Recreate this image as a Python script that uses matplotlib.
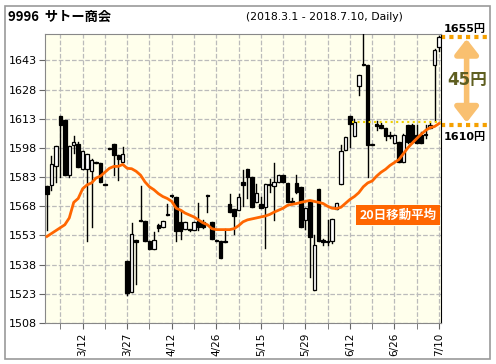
import matplotlib
matplotlib.use("Agg")
import matplotlib.pyplot as plt
import matplotlib.patches as mpatches

# 日足 (2018.3.1 - 2018.7.10), 絵から読み取った値
opens  = [1578.3, 1578.8, 1588.6, 1614.2, 1612.2, 1584.3, 1599.7, 1600.2, 1587.4, 1587.4,
          1586.2, 1591.0, 1590.0, 1579.6, 1597.8, 1600.2, 1594.2, 1590.5, 1539.8, 1524.0,
          1550.5, 1561.0, 1560.3, 1550.2, 1546.1, 1558.3, 1557.4, 1564.0, 1573.6, 1573.0,
          1560.0, 1556.3, 1556.0, 1555.7, 1560.3, 1560.0, 1573.8, 1560.0, 1550.5, 1550.2,
          1550.2, 1569.1, 1566.8, 1566.3, 1580.5, 1587.0, 1583.1, 1570.2, 1569.4, 1567.7,
          1579.5, 1578.5, 1580.5, 1583.9, 1580.2, 1570.5, 1580.2, 1578.0, 1560.8, 1570.2,
          1525.2, 1577.1, 1550.9, 1550.0, 1550.2, 1566.8, 1579.7, 1596.9, 1614.2, 1604.0,
          1629.6, 1641.2, 1640.4, 1599.9, 1609.8, 1610.0, 1608.0, 1604.3, 1600.7, 1601.0,
          1590.8, 1610.0, 1610.0, 1604.8, 1604.8, 1605.0, 1608.4, 1640.8, 1649.8]
highs  = [1578.5, 1593.7, 1599.2, 1614.2, 1612.2, 1599.2, 1604.0, 1601.0, 1596.3, 1595.1,
          1592.5, 1591.0, 1590.0, 1579.6, 1597.8, 1600.2, 1594.2, 1598.5, 1539.8, 1559.5,
          1550.5, 1578.3, 1560.5, 1550.2, 1555.0, 1559.0, 1560.3, 1569.4, 1573.6, 1573.0,
          1566.0, 1560.0, 1556.0, 1560.0, 1569.9, 1560.8, 1573.8, 1560.0, 1550.5, 1550.2,
          1556.5, 1574.2, 1566.8, 1574.5, 1586.5, 1587.0, 1583.1, 1579.7, 1572.8, 1579.7,
          1582.2, 1590.0, 1583.9, 1583.9, 1580.2, 1572.0, 1583.9, 1578.0, 1567.0, 1570.2,
          1553.1, 1577.1, 1551.0, 1561.0, 1561.7, 1569.9, 1599.5, 1603.6, 1614.2, 1613.0,
          1635.3, 1657.0, 1640.4, 1599.9, 1612.0, 1611.0, 1608.0, 1606.0, 1604.5, 1601.0,
          1605.0, 1610.0, 1610.5, 1610.0, 1606.0, 1610.0, 1611.0, 1649.0, 1655.5]
lows   = [1555.7, 1576.6, 1580.5, 1583.0, 1584.3, 1583.0, 1595.4, 1588.2, 1587.0, 1550.2,
          1557.4, 1590.3, 1580.5, 1579.0, 1597.2, 1583.9, 1581.5, 1590.5, 1522.4, 1524.0,
          1528.2, 1560.5, 1550.2, 1546.1, 1546.1, 1555.5, 1557.4, 1563.4, 1573.0, 1550.2,
          1551.1, 1556.3, 1555.5, 1555.7, 1555.7, 1556.6, 1565.2, 1551.4, 1550.0, 1541.2,
          1549.7, 1565.2, 1553.6, 1566.3, 1568.0, 1572.0, 1567.5, 1570.2, 1567.3, 1546.3,
          1575.5, 1560.8, 1580.5, 1580.5, 1570.0, 1569.0, 1575.0, 1557.4, 1556.5, 1531.6,
          1525.2, 1550.2, 1548.0, 1548.0, 1549.0, 1566.8, 1579.7, 1596.9, 1598.5, 1604.0,
          1625.0, 1640.4, 1583.1, 1599.3, 1607.0, 1608.2, 1602.0, 1603.0, 1600.5, 1590.5,
          1590.5, 1600.7, 1600.7, 1600.7, 1600.5, 1603.0, 1608.0, 1612.0, 1648.0]
closes = [1574.5, 1589.9, 1599.2, 1609.6, 1584.3, 1599.2, 1601.0, 1588.2, 1596.3, 1595.1,
          1592.0, 1590.4, 1580.5, 1579.0, 1597.3, 1594.6, 1592.3, 1595.1, 1523.2, 1554.0,
          1549.6, 1560.5, 1550.2, 1546.1, 1550.9, 1556.6, 1560.3, 1563.4, 1573.1, 1555.3,
          1555.3, 1560.0, 1555.6, 1560.0, 1557.4, 1557.4, 1573.3, 1551.4, 1550.1, 1541.2,
          1549.8, 1565.2, 1563.2, 1573.0, 1578.7, 1583.1, 1567.5, 1574.8, 1567.3, 1579.5,
          1579.1, 1580.3, 1583.9, 1580.5, 1570.2, 1570.1, 1575.4, 1557.4, 1567.0, 1552.2,
          1548.0, 1550.2, 1549.5, 1549.6, 1561.7, 1569.9, 1596.3, 1603.6, 1610.5, 1611.3,
          1635.3, 1640.6, 1599.7, 1599.5, 1609.5, 1608.4, 1604.3, 1604.0, 1604.5, 1590.8,
          1604.8, 1601.0, 1601.0, 1600.7, 1600.7, 1604.6, 1610.0, 1648.1, 1655.0]
# 20日移動平均
ma20 = [1552.5, 1554.0, 1555.5, 1557.0, 1558.5, 1562.0, 1570.0, 1572.0, 1577.0, 1579.0,
        1580.0, 1582.5, 1583.5, 1585.5, 1587.5, 1588.5, 1588.5, 1589.5, 1587.5, 1587.3,
        1586.0, 1584.0, 1580.5, 1578.0, 1576.5, 1574.5, 1573.0, 1572.0, 1570.5, 1567.0,
        1566.0, 1564.5, 1563.5, 1562.5, 1561.0, 1559.5, 1558.5, 1556.5, 1556.0, 1556.0,
        1556.0, 1556.0, 1556.5, 1558.0, 1560.0, 1561.0, 1561.5, 1562.0, 1562.5, 1563.0,
        1563.8, 1565.0, 1566.0, 1567.0, 1568.5, 1569.0, 1569.4, 1570.0, 1570.5, 1571.0,
        1570.5, 1570.0, 1569.4, 1568.0, 1567.0, 1566.8, 1567.5, 1569.5, 1571.5, 1573.0,
        1575.0, 1578.0, 1580.0, 1581.0, 1583.5, 1585.5, 1587.0, 1589.0, 1590.5, 1592.0,
        1595.0, 1598.0, 1600.5, 1602.8, 1605.0, 1607.0, 1608.4, 1609.0, 1610.5]

date_pos = [8, 18, 28, 38, 48, 58, 68, 78, 88]
date_labels = ['3/12', '3/27', '4/12', '4/26', '5/15', '5/29', '6/12', '6/26', '7/10']
y_ticks = [1508, 1523, 1538, 1553, 1568, 1583, 1598, 1613, 1628, 1643]
last_price = 1655
ma_price = 1610

jp = ['Noto Sans CJK JP', 'DejaVu Sans']
mix = ['DejaVu Sans', 'Noto Sans CJK JP']

fig = plt.figure(figsize=(4.96, 3.64), dpi=100)
# 外枠
fig.patches.append(mpatches.Rectangle((5/496, 5/364), 485/496, 353/364, transform=fig.transFigure,
                                      fill=False, edgecolor='#999999', lw=1.2))
ax = fig.add_axes([45/496, 41/364, 396/496, 289.5/364])
ax.set_facecolor('#FFFFEC')

for i in range(len(opens)):
    o, h, l, c = opens[i], highs[i], lows[i], closes[i]
    ax.plot([i, i], [l, h], color='black', lw=1, zorder=3)
    bottom = min(o, c)
    height = max(abs(c - o), 0.6)
    if c >= o:
        rect = mpatches.Rectangle((i - 0.38, bottom), 0.76, height, facecolor='white',
                                  edgecolor='black', lw=0.9, zorder=4)
    else:
        rect = mpatches.Rectangle((i - 0.38, bottom), 0.76, height, facecolor='black',
                                  edgecolor='black', lw=0.9, zorder=4)
    ax.add_patch(rect)

ax.plot(range(len(ma20)), ma20, color='#FF6600', lw=2, zorder=5)
ax.plot([68.5, 88.4], [ma_price + 1.5, ma_price + 1.5], color='#F0D000', lw=1.5, ls=':', zorder=6)

ax.set_xlim(-0.45, 88.45)
ax.set_ylim(1508, 1656.8)
ax.set_yticks(y_ticks)
ax.set_yticklabels([str(v) for v in y_ticks], fontsize=8)
ax.set_xticks(date_pos)
ax.set_xticklabels(date_labels, rotation=90, fontsize=7.5)
ax.set_xticks(range(3, 89, 5), minor=True)
ax.tick_params(axis='both', which='both', direction='out', length=4, color='#666666', pad=2)
ax.tick_params(axis='x', pad=3)
ax.grid(True, which='both', axis='x', color='#BBBBBB', ls='--', lw=0.9)
ax.grid(True, axis='y', color='#BBBBBB', ls='--', lw=0.9)
ax.set_axisbelow(True)
for s in ['left', 'bottom', 'top']:
    ax.spines[s].set_color('#888888')
ax.spines['right'].set_color('black')

# タイトル
fig.text(8/496, 1 - 17/364, '9996  サトー商会', family=jp, fontsize=9.5, fontweight='bold', va='center')
fig.text(246/496, 1 - 17/364, '(2018.3.1 - 2018.7.10, Daily)', fontsize=7.8, va='center')

# 右側の注記
xr = 99.3
ax.plot([88.5, xr], [last_price, last_price], color='#F5A000', lw=3, ls=(0, (1, 1)), clip_on=False)
ax.plot([88.5, xr], [ma_price, ma_price], color='#F5A000', lw=3, ls=(0, (1, 1)), clip_on=False)
ax.annotate('', xy=(94.2, last_price - 1), xytext=(94.2, ma_price + 1),
            arrowprops=dict(arrowstyle='<|-|>,head_width=0.7,head_length=0.9', lw=4,
                            color='#F9C070', shrinkA=0, shrinkB=0), annotation_clip=False)
ax.text(94.3, 1633, '45円', family=mix, fontsize=12, fontweight='bold', color='#5E5E20',
        ha='center', va='center', clip_on=False)
ax.text(93.7, last_price + 4.2, '1655円', family=mix, fontsize=8, fontweight='bold',
        ha='center', va='center', clip_on=False)
ax.text(93.7, ma_price - 6.5, '1610円', family=mix, fontsize=8, fontweight='bold',
        ha='center', va='center', clip_on=False)

ax.text(78.8, 1563.5, '20日移動平均', family=jp, fontsize=9, fontweight='bold', color='white',
        ha='center', va='center', zorder=7,
        bbox=dict(boxstyle='square,pad=0.25', facecolor='#FF6600', edgecolor='none'))

fig.savefig('out.png', dpi=100)
